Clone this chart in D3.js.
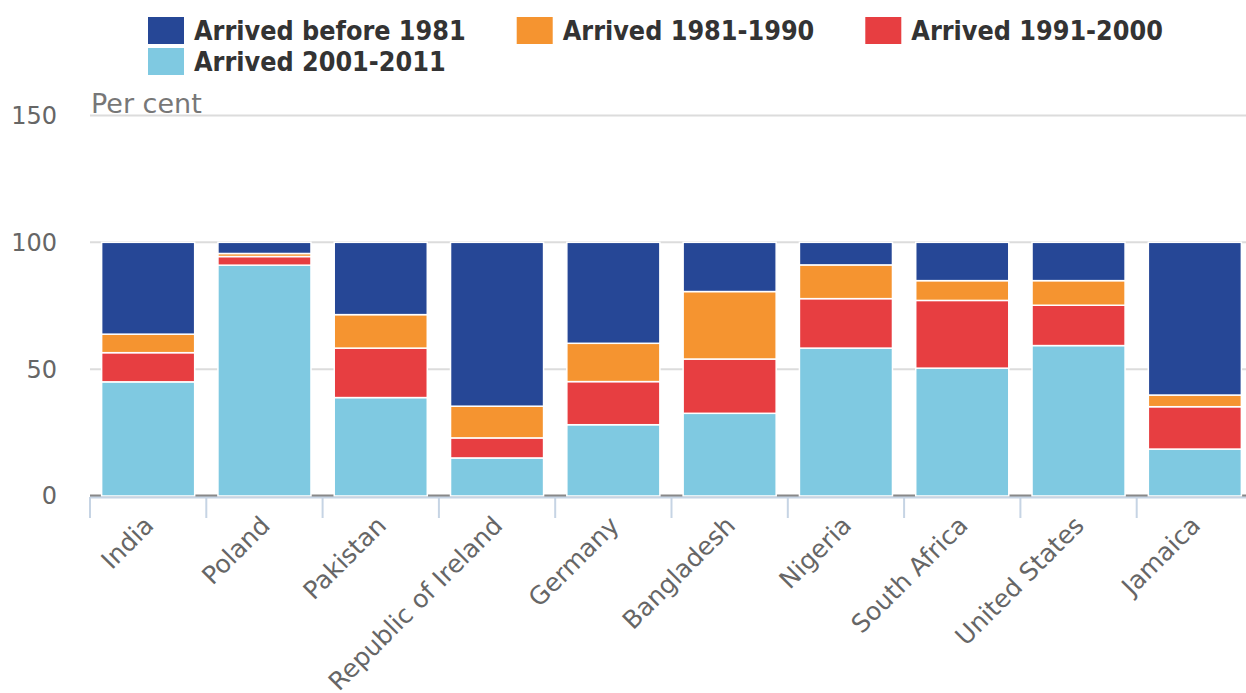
<!DOCTYPE html>
<html lang="en">
  <head>
    <meta charset="UTF-8" />
    <title>Arrivals by country of birth</title>
    <script src="https://d3js.org/d3.v7.min.js"></script>
    <style>
      body { margin: 0; background: #fff; }
      text { font-family: "DejaVu Sans", sans-serif; }
    </style>
  </head>
  <body>
    <svg width="1246" height="693"></svg>
    <script>
      // data (per cent of each country-of-birth group)
      var countries = ["India", "Poland", "Pakistan", "Republic of Ireland", "Germany",
        "Bangladesh", "Nigeria", "South Africa", "United States", "Jamaica"];
      var before1981 = [36.2, 4.4, 28.5, 64.6, 39.8, 19.4, 8.9, 15.1, 15.1, 60.2];
      var arr1981_1990 = [7.3, 1.2, 13.2, 12.5, 15.1, 26.6, 13.3, 7.8, 9.7, 4.6];
      var arr1991_2000 = [11.5, 3.4, 19.5, 7.9, 17.0, 21.4, 19.5, 26.7, 15.9, 16.7];
      var arr2001_2011 = [45.0, 91.0, 38.8, 15.0, 28.1, 32.6, 58.3, 50.4, 59.3, 18.5];
      var yTicks = [0, 50, 100, 150];

      var series = [
        { key: "before1981", name: "Arrived before 1981", color: "#264796", values: before1981 },
        { key: "a1981", name: "Arrived 1981-1990", color: "#f59430", values: arr1981_1990 },
        { key: "a1991", name: "Arrived 1991-2000", color: "#e73e41", values: arr1991_2000 },
        { key: "a2001", name: "Arrived 2001-2011", color: "#7fc9e1", values: arr2001_2011 }
      ];

      var rows = countries.map(function (c, i) {
        var r = { country: c };
        series.forEach(function (s) { r[s.key] = s.values[i]; });
        return r;
      });

      var svg = d3.select("svg");

      var x = d3.scaleBand()
        .domain(countries)
        .range([90, 1253])
        .paddingInner(0.2)
        .paddingOuter(0.1);

      var y = d3.scaleLinear().domain([0, 150]).range([496, 115.5]);

      // gridlines
      svg.append("g").selectAll("line")
        .data(yTicks)
        .join("line")
        .attr("x1", 90)
        .attr("x2", 1246)
        .attr("y1", function (d) { return y(d); })
        .attr("y2", function (d) { return y(d); })
        .attr("stroke", function (d) { return d === 0 ? "#888" : "#dcdcdc"; })
        .attr("stroke-width", function (d) { return d === 0 ? 3 : 2; });

      // y labels
      svg.append("g").selectAll("text")
        .data(yTicks)
        .join("text")
        .attr("x", 57)
        .attr("y", function (d) { return y(d); })
        .attr("dy", "0.35em")
        .attr("text-anchor", "end")
        .attr("font-size", 24)
        .attr("fill", "#666")
        .text(function (d) { return d; });

      svg.append("text")
        .attr("x", 91)
        .attr("y", 113)
        .attr("font-size", 27)
        .attr("fill", "#777")
        .text("Per cent");

      // stacked bars, bottom = most recent arrivals
      var stackKeys = series.map(function (s) { return s.key; }).reverse();
      var stacked = d3.stack().keys(stackKeys)(rows);
      var colorOf = {};
      series.forEach(function (s) { colorOf[s.key] = s.color; });

      svg.append("g").selectAll("g")
        .data(stacked)
        .join("g")
        .attr("fill", function (d) { return colorOf[d.key]; })
        .selectAll("rect")
        .data(function (d) { return d; })
        .join("rect")
        .attr("x", function (d) { return x(d.data.country); })
        .attr("width", x.bandwidth())
        .attr("y", function (d) { return y(d[1]); })
        .attr("height", function (d) { return y(d[0]) - y(d[1]); })
        .attr("stroke", "#fff")
        .attr("stroke-width", 1.5);

      // x axis
      var step = x.step();
      var axis = svg.append("g");
      axis.append("line")
        .attr("x1", 90).attr("x2", 1246)
        .attr("y1", 497.5).attr("y2", 497.5)
        .attr("stroke", "#c6d4e4").attr("stroke-width", 2);
      axis.selectAll("line.tick")
        .data(countries)
        .join("line")
        .attr("class", "tick")
        .attr("x1", function (d) { return x(d) - step * 0.1; })
        .attr("x2", function (d) { return x(d) - step * 0.1; })
        .attr("y1", 497)
        .attr("y2", 518)
        .attr("stroke", "#c6d4e4")
        .attr("stroke-width", 2);
      axis.selectAll("text")
        .data(countries)
        .join("text")
        .attr("text-anchor", "end")
        .attr("font-size", 25)
        .attr("fill", "#666")
        .attr("transform", function (d) {
          return "translate(" + (x(d) + x.bandwidth() / 2 + 7) + ",527) rotate(-45)";
        })
        .text(function (d) { return d; });

      // legend
      var legend = svg.append("g");
      var lx = 148, ly = 17;
      series.forEach(function (s, i) {
        if (i === 3) { lx = 148; ly = 48; }
        var g = legend.append("g").attr("transform", "translate(" + lx + "," + ly + ")");
        g.append("rect").attr("width", 36).attr("height", 27).attr("fill", s.color);
        var t = g.append("text")
          .attr("x", 46)
          .attr("y", 23)
          .attr("font-size", 26.7)
          .attr("font-weight", "bold")
          .style("font-family", "'DejaVu Sans Condensed', 'DejaVu Sans', sans-serif")
          .style("font-stretch", "condensed")
          .attr("fill", "#333")
          .text(s.name);
        lx += 46 + t.node().getComputedTextLength() + 51;
      });
    </script>
  </body>
</html>
